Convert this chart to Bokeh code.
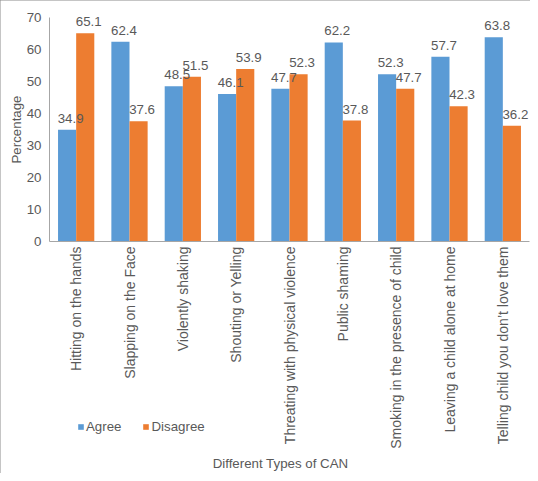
import math
from bokeh.plotting import figure
from bokeh.models import (ColumnDataSource, Range1d, FixedTicker, LabelSet, Label,
                          Legend, LegendItem)
from bokeh.core.properties import value
from bokeh.transform import dodge
from bokeh.embed import file_html
from bokeh.resources import INLINE

categories = [
    "Hitting on the hands",
    "Slapping on the Face",
    "Violently shaking",
    "Shouting or Yelling",
    "Threating with physical violence",
    "Public shaming",
    "Smoking in the presence of child",
    "Leaving a child alone at home",
    "Telling child you don\u2019t love them",
]
agree = [34.9, 62.4, 48.5, 46.1, 47.7, 62.2, 52.3, 57.7, 63.8]
disagree = [65.1, 37.6, 51.5, 53.9, 52.3, 37.8, 47.7, 42.3, 36.2]
y_ticks = [0, 10, 20, 30, 40, 50, 60, 70]
series_names = ["Agree", "Disagree"]
x_title = "Different Types of CAN"
y_title = "Percentage"

FONT = "Liberation Sans"
TXT = "#595959"
FS = "13.3px"
BLUE = "#5B9BD5"
ORANGE = "#ED7D31"

# layout (pixels)
W, H = 530, 473
PLOT_L, PLOT_R, PLOT_T, PLOT_B = 49, 529, 17, 241
YMAX = y_ticks[-1]
ncat = len(categories)
px_per_cat = (PLOT_R - PLOT_L) / ncat
px_per_unit = (PLOT_B - PLOT_T) / YMAX
x_start = -0.5 - PLOT_L / px_per_cat
x_end = x_start + W / px_per_cat
y_end = YMAX + PLOT_T / px_per_unit
y_start = -(H - PLOT_B) / px_per_unit


def xdata(px):
    return x_start + px / px_per_cat


def ydata(py):
    return (PLOT_B - py) / px_per_unit


src = ColumnDataSource(dict(
    xi=list(range(ncat)),
    agree=agree,
    disagree=disagree,
    agree_lbl=[f"{v:.1f}" for v in agree],
    disagree_lbl=[f"{v:.1f}" for v in disagree],
))

p = figure(
    width=W, height=H,
    x_range=Range1d(x_start, x_end), y_range=Range1d(y_start, y_end),
    output_backend="svg", toolbar_location=None,
    min_border_left=0, min_border_right=0, min_border_top=0, min_border_bottom=0,
)
p.styles = {"outline": "1px solid #8a8a8a", "outline-offset": "-1px"}
p.outline_line_color = None
p.grid.grid_line_color = None
p.background_fill_color = "white"
p.border_fill_color = "white"

BW = 0.34
r1 = p.vbar(x=dodge("xi", -BW / 2), top="agree", bottom=0, width=BW,
            source=src, fill_color=BLUE, line_color=None)
r2 = p.vbar(x=dodge("xi", BW / 2), top="disagree", bottom=0, width=BW,
            source=src, fill_color=ORANGE, line_color=None)

for col, off in (("agree", -BW / 2), ("disagree", BW / 2)):
    p.add_layout(LabelSet(
        x=dodge("xi", off), y=col, text=col + "_lbl", source=src,
        x_offset=3.5, y_offset=7, text_align="center", text_baseline="bottom",
        text_font=value(FONT), text_font_size=value(FS), text_color=TXT,
    ))

# axes (drawn inside the frame at fixed positions)
for ax in (p.xaxis[0], p.yaxis[0]):
    ax.axis_line_color = "#A6A6A6"
    ax.major_tick_line_color = None
    ax.minor_tick_line_color = None
    ax.major_tick_out = 0
    ax.major_tick_in = 0
    ax.major_label_text_font = FONT
    ax.major_label_text_font_size = FS
    ax.major_label_text_color = TXT

p.yaxis.ticker = FixedTicker(ticks=y_ticks)
p.yaxis.bounds = (0, YMAX)
p.yaxis.fixed_location = -0.5
p.yaxis.major_label_standoff = 8

p.xaxis.ticker = FixedTicker(ticks=list(range(ncat)))
p.xaxis.major_label_overrides = {i: c for i, c in enumerate(categories)}
p.xaxis.bounds = (-0.5, ncat - 0.5)
p.xaxis.fixed_location = 0
p.xaxis.major_label_orientation = math.pi / 2
p.xaxis.major_label_text_font_size = "14px"
p.xaxis.major_label_standoff = 5

p.add_layout(Label(x=xdata(16), y=YMAX / 2, text=y_title, angle=math.pi / 2,
                   text_align="center", text_baseline="middle",
                   text_font=FONT, text_font_size=FS, text_color=TXT))
p.add_layout(Label(x=xdata(280), y=ydata(463), text=x_title,
                   text_align="center", text_baseline="middle",
                   text_font=FONT, text_font_size=FS, text_color=TXT))

legend = Legend(
    items=[LegendItem(label=series_names[0], renderers=[r1]),
           LegendItem(label=series_names[1], renderers=[r2])],
    orientation="horizontal",
    location=(77, 39),
    glyph_width=7, glyph_height=7,
    label_standoff=2, spacing=21, padding=0, margin=0,
    border_line_color=None, background_fill_alpha=0,
    label_text_font=FONT, label_text_font_size=FS, label_text_color=TXT,
)
p.add_layout(legend, "center")

open("out.html", "w").write(file_html(p, INLINE))
